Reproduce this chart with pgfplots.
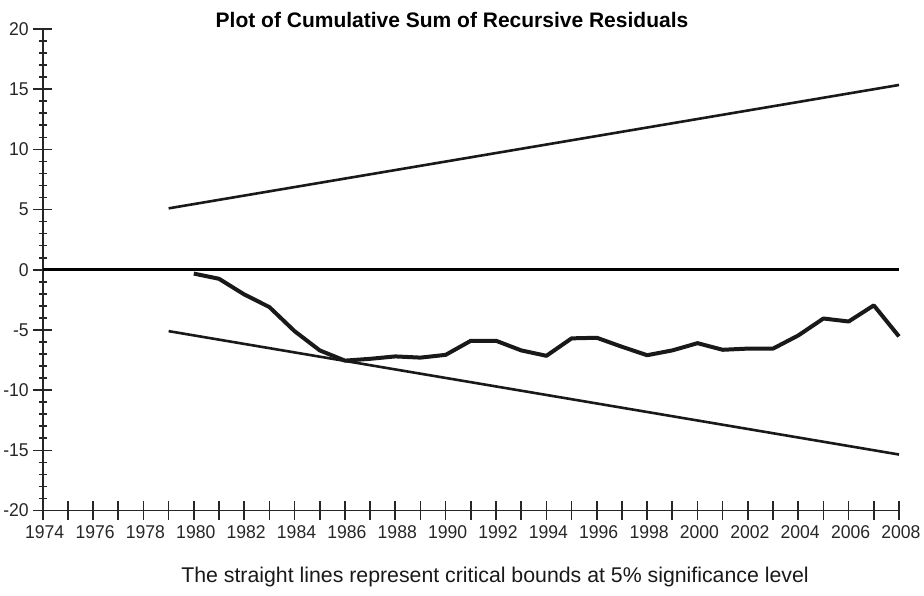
\documentclass[border=0pt]{standalone}
\usepackage{pgfplots}
\pgfplotsset{compat=1.18}
\usepackage{fontspec}
\setmainfont{Liberation Sans}
\newfontfamily\ticksfont[FakeStretch=0.95]{Liberation Sans}

% CUSUM of recursive residuals
\pgfplotstableread{
year cusum
1980 -0.32
1981 -0.75
1982 -2.05
1983 -3.10
1984 -5.10
1985 -6.70
1986 -7.55
1987 -7.40
1988 -7.20
1989 -7.30
1990 -7.07
1991 -5.90
1992 -5.90
1993 -6.70
1994 -7.15
1995 -5.70
1996 -5.65
1997 -6.40
1998 -7.10
1999 -6.70
2000 -6.10
2001 -6.65
2002 -6.55
2003 -6.55
2004 -5.46
2005 -4.05
2006 -4.30
2007 -2.96
2008 -5.54
}\cusumdata

\begin{document}
\begin{tikzpicture}
\useasboundingbox (0pt,0pt) rectangle (924pt,596pt);
\begin{axis}[
  at={(42.7pt,85.5pt)}, anchor=south west,
  scale only axis, width=856.3pt, height=481.5pt,
  xmin=1974, xmax=2008, ymin=-20, ymax=20,
  axis x line=bottom, axis y line=left,
  axis line style={-, line width=1.8pt, color=black!85},
  xtick={1974,...,2008},
  xticklabels={1974,,1976,,1978,,1980,,1982,,1984,,1986,,1988,,1990,,1992,,1994,,1996,,1998,,2000,,2002,,2004,,2006,,2008},
  ytick={-20,-15,...,20},
  yticklabels={-20,-15,-10,-5,0,5,10,15,20},
  minor ytick={-19,...,19},
  tick align=center,
  major tick length=19pt,
  minor tick length=8pt,
  every tick/.style={line width=1.6pt, color=black!85},
  xticklabel style={font=\ticksfont\fontsize{18.5}{18.5}\selectfont, color=black!85, xshift=2pt, yshift=-2pt},
  yticklabel style={font=\ticksfont\fontsize{18.5}{18.5}\selectfont, color=black!85, xshift=-1pt},
  clip=false,
]
\addplot[line width=3.2pt, black] coordinates {(1974,0) (2008,0)};
\addplot[line width=2.6pt, black!90] coordinates {(1979,5.1) (2008,15.35)};
\addplot[line width=2.6pt, black!90] coordinates {(1979,-5.1) (2008,-15.35)};
\addplot[line width=4pt, black!90, line join=round] table[x=year, y=cusum] {\cusumdata};
\end{axis}
\node[font=\bfseries\fontsize{21}{21}\selectfont, anchor=base] at (452pt,568pt)
  {Plot of Cumulative Sum of Recursive Residuals};
\node[font=\fontsize{21.3}{21.3}\selectfont, anchor=base, color=black!90] at (495pt,13pt)
  {The straight lines represent critical bounds at 5\% significance level};
\end{tikzpicture}
\end{document}
